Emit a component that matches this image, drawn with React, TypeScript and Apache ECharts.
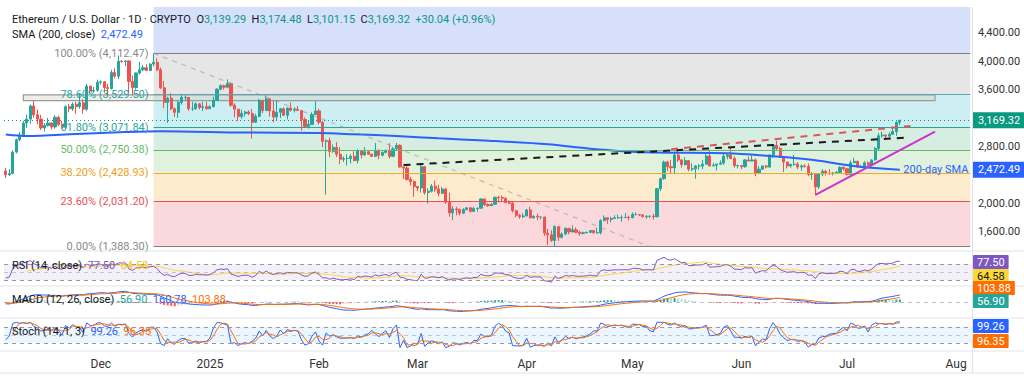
import React, { useEffect, useRef } from "react";
import * as echarts from "echarts";

// ---------------- DATA ----------------
const firstDay = "2024-11-04";
const blankDaysAfter = 20;
// closes before the first visible candle (Oct 14 .. Nov 3), used only to seed indicators
const warmupCloses = [2630, 2605, 2610, 2605, 2645, 2645, 2745, 2665, 2620, 2525, 2535, 2440, 2485, 2505, 2570, 2640, 2655, 2520, 2510, 2490, 2455];

// daily [high, low, close]; open = previous close (24/7 market)
const novHLC = [
  [2495, 2355, 2400], [2480, 2385, 2420], [2745, 2420, 2720], [2910, 2700, 2895], [3000, 2870, 2960],
  [3160, 2950, 3130], [3250, 3060, 3185], [3390, 3120, 3370], [3445, 3205, 3245], [3320, 3110, 3185],
  [3245, 3030, 3060], [3130, 3010, 3095], [3200, 3080, 3130], [3140, 3040, 3075], [3240, 3050, 3210],
  [3230, 3085, 3110], [3160, 3045, 3070], [3380, 3040, 3360], [3400, 3280, 3330], [3420, 3300, 3395],
  [3430, 3260, 3360], [3540, 3330, 3415], [3465, 3260, 3325], [3680, 3300, 3650], [3650, 3540, 3580],
  [3640, 3560, 3590], [3740, 3570, 3705],
];
const decHLC = [
  [3730, 3670, 3710], [3720, 3560, 3630], [3680, 3500, 3615], [3880, 3600, 3840], [3900, 3760, 3790],
  [4080, 3750, 4000], [4020, 3980, 3995], [4010, 3930, 4005], [4010, 3560, 3715], [3800, 3520, 3630],
  [3840, 3600, 3835], [3990, 3810, 3880], [3950, 3860, 3910], [3960, 3860, 3870], [3970, 3860, 3960],
  [4107, 3930, 3985], [4040, 3860, 3880], [3910, 3610, 3625], [3720, 3340, 3420], [3500, 3130, 3480],
  [3550, 3310, 3330], [3350, 3215, 3280], [3440, 3200, 3420], [3540, 3390, 3490], [3520, 3440, 3490],
  [3490, 3300, 3330], [3430, 3300, 3330], [3420, 3320, 3400], [3410, 3320, 3350], [3430, 3300, 3360],
  [3430, 3320, 3330],
];
const janHLC = [
  [3380, 3330, 3360], [3500, 3350, 3450], [3620, 3440, 3605], [3675, 3590, 3655], [3670, 3600, 3635],
  [3745, 3620, 3685], [3700, 3360, 3380], [3410, 3210, 3325], [3330, 3160, 3220], [3320, 3190, 3265],
  [3300, 3220, 3285], [3310, 3240, 3265], [3330, 2910, 3140], [3260, 3130, 3225], [3470, 3210, 3450],
  [3450, 3270, 3305], [3520, 3300, 3470], [3475, 3220, 3300], [3450, 3140, 3215], [3450, 3160, 3280],
  [3340, 3200, 3330], [3350, 3230, 3240], [3350, 3180, 3340], [3420, 3290, 3310], [3350, 3280, 3320],
  [3370, 3300, 3305], [3260, 3020, 3180], [3210, 3060, 3080], [3160, 3050, 3110], [3280, 3100, 3250],
  [3440, 3250, 3300],
];
const febHLC = [
  [3330, 3110, 3140], [3160, 2790, 2870], [2900, 2120, 2880], [2925, 2650, 2730], [2825, 2710, 2785],
  [2860, 2650, 2690], [2790, 2550, 2620], [2660, 2580, 2630], [2690, 2530, 2630], [2690, 2560, 2660],
  [2730, 2590, 2600], [2760, 2560, 2740], [2740, 2630, 2680], [2790, 2670, 2725], [2730, 2680, 2690],
  [2700, 2650, 2660], [2850, 2650, 2745], [2760, 2620, 2675], [2730, 2660, 2715], [2760, 2700, 2740],
  [2845, 2630, 2660], [2790, 2650, 2765], [2850, 2750, 2815], [2830, 2500, 2510], [2520, 2340, 2495],
  [2530, 2320, 2335], [2370, 2250, 2305], [2320, 2090, 2235],
];
const marHLC = [
  [2240, 2170, 2215], [2550, 2150, 2515], [2520, 2120, 2150], [2210, 1995, 2170], [2270, 2150, 2240],
  [2320, 2160, 2200], [2260, 2100, 2140], [2230, 2130, 2200], [2210, 1990, 2015], [2150, 1810, 1865],
  [1960, 1760, 1920], [1950, 1830, 1910], [1925, 1830, 1860], [1930, 1850, 1910], [1940, 1900, 1935],
  [1950, 1870, 1885], [1950, 1880, 1925], [1935, 1880, 1930], [2070, 1920, 2060], [2060, 1960, 1980],
  [2000, 1950, 1965], [2000, 1960, 1985], [2090, 1980, 2085], [2100, 2010, 2080], [2110, 2030, 2070],
  [2080, 2000, 2010], [2040, 1990, 2000], [2015, 1870, 1895], [1900, 1800, 1830], [1850, 1780, 1810],
  [1860, 1790, 1820],
];
const aprHLC = [
  [1920, 1820, 1905], [1950, 1785, 1795], [1830, 1780, 1815], [1850, 1760, 1805], [1815, 1775, 1805],
  [1810, 1540, 1580], [1640, 1410, 1555], [1620, 1455, 1475], [1690, 1388.3, 1670], [1670, 1470, 1520],
  [1590, 1505, 1565], [1660, 1550, 1645], [1650, 1560, 1595], [1690, 1600, 1625], [1660, 1580, 1590],
  [1610, 1540, 1575], [1600, 1560, 1585], [1600, 1575, 1590], [1620, 1580, 1615], [1620, 1570, 1585],
  [1655, 1570, 1585], [1775, 1560, 1755], [1830, 1745, 1795], [1790, 1710, 1770], [1810, 1730, 1785],
  [1830, 1780, 1795], [1840, 1780, 1795], [1830, 1740, 1800], [1860, 1790, 1800], [1825, 1760, 1795],
];
const mayHLC = [
  [1870, 1790, 1840], [1870, 1830, 1840], [1845, 1820, 1835], [1840, 1800, 1810], [1830, 1780, 1815],
  [1830, 1790, 1815], [1850, 1770, 1810], [2215, 1800, 2205], [2360, 2170, 2345], [2600, 2330, 2580],
  [2600, 2450, 2515], [2610, 2420, 2500], [2730, 2410, 2680], [2740, 2580, 2610], [2620, 2500, 2545],
  [2650, 2530, 2600], [2610, 2450, 2480], [2560, 2450, 2485], [2535, 2345, 2525], [2550, 2470, 2525],
  [2610, 2480, 2550], [2690, 2550, 2665], [2735, 2520, 2525], [2570, 2520, 2535], [2560, 2460, 2550],
  [2600, 2540, 2565], [2710, 2540, 2660], [2700, 2620, 2680], [2790, 2620, 2630], [2660, 2500, 2530],
  [2545, 2490, 2530],
];
const junHLC = [
  [2540, 2480, 2515], [2620, 2500, 2610], [2660, 2590, 2595], [2680, 2590, 2610], [2630, 2380, 2420],
  [2520, 2410, 2480], [2530, 2470, 2525], [2540, 2490, 2510], [2690, 2500, 2680], [2830, 2640, 2815],
  [2880, 2750, 2770], [2790, 2640, 2645], [2630, 2440, 2580], [2580, 2490, 2525], [2560, 2500, 2545],
  [2680, 2530, 2550], [2580, 2480, 2510], [2545, 2460, 2525], [2550, 2500, 2520], [2560, 2380, 2405],
  [2440, 2330, 2410], [2410, 2110, 2230], [2420, 2200, 2410], [2480, 2380, 2450], [2470, 2390, 2420],
  [2480, 2400, 2415], [2440, 2390, 2425], [2450, 2420, 2435], [2520, 2420, 2505], [2520, 2460, 2485],
];
const julHLC = [
  [2500, 2390, 2405], [2600, 2400, 2570], [2640, 2570, 2590], [2600, 2500, 2510], [2540, 2500, 2515],
  [2590, 2500, 2570], [2590, 2520, 2540], [2620, 2520, 2610], [2790, 2600, 2770], [2990, 2750, 2950],
  [3010, 2920, 2960], [2970, 2900, 2945], [3000, 2920, 2970], [3080, 2970, 3010], [3150, 2950, 3139.29],
  [3174.48, 3101.15, 3169.32],
];

// 200-day SMA read at sample dates
const smaDates = ["2024-11-04", "2024-11-10", "2024-11-24", "2024-12-08", "2024-12-18", "2025-01-10", "2025-02-01", "2025-02-11", "2025-02-23", "2025-03-07", "2025-03-20", "2025-04-07", "2025-04-19", "2025-05-05", "2025-05-28", "2025-06-09", "2025-06-19", "2025-06-23", "2025-07-01", "2025-07-06", "2025-07-16"];
const smaValues = [2968, 2947, 2975, 3003, 3015, 2996, 2989, 2971, 2947, 2914, 2883, 2830, 2768, 2717, 2703, 2665, 2623, 2599, 2538, 2506, 2472.49];

// Fibonacci retracement
const fibStart = "2024-12-16";
const fibRatios = ["100.00%", "78.60%", "61.80%", "50.00%", "38.20%", "23.60%", "0.00%"];
const fibPrices = [4112.47, 3529.5, 3071.84, 2750.38, 2428.93, 2031.2, 1388.3];

// drawings
const boxZone = { from: "2024-11-09", to: "2025-07-26", top: 3525, bottom: 3444 };
const blackTrend = [["2025-02-25", 2538], ["2025-07-18", 2923]];
const redTrend = [["2025-05-12", 2760], ["2025-07-19", 3088]];
const magentaTrend = [["2025-06-22", 2116], ["2025-07-26", 3008]];
const greyDiagonal = [["2024-12-16", 4112.47], ["2025-05-06", 1388.3]];

// 3,200 and 2,400 sit under the price tags in the reference
const priceTicks = [1600, 2000, 2800, 3600, 4000, 4400];
const lastPrice = 3169.32;
const lastSma = 2472.49;
const legendOHLC = { o: "3,139.29", h: "3,174.48", l: "3,101.15", c: "3,169.32", chg: "+30.04 (+0.96%)" };
const rsiLegend = ["77.50", "64.58"];
const macdLegend = ["56.90", "160.78", "103.88"];
const stochLegend = ["99.26", "96.35"];

// ---------------- BUILD ----------------
const FONT = "Roboto, 'Noto Sans', sans-serif";
const monthNames = ["Jan", "Feb", "Mar", "Apr", "May", "Jun", "Jul", "Aug", "Sep", "Oct", "Nov", "Dec"];

function buildDays(start: string, count: number): string[] {
  const t0 = Date.UTC(+start.slice(0, 4), +start.slice(5, 7) - 1, +start.slice(8, 10));
  const out: string[] = [];
  for (let i = 0; i < count; i++) out.push(new Date(t0 + i * 86400000).toISOString().slice(0, 10));
  return out;
}

const hlc = [...novHLC, ...decHLC, ...janHLC, ...febHLC, ...marHLC, ...aprHLC, ...mayHLC, ...junHLC, ...julHLC];
const days = buildDays(firstDay, hlc.length + blankDaysAfter);
const lastDay = days[days.length - 1];

let prevC = warmupCloses[warmupCloses.length - 1];
const candles = hlc.map(([h, l, c]) => {
  const o = prevC;
  prevC = c;
  return [o, c, Math.min(l, o, c), Math.max(h, o, c)];
});
const closes = hlc.map((r) => r[2]);
const highs = candles.map((k) => k[3]);
const lows = candles.map((k) => k[2]);

function calcRSI(src: number[], n: number) {
  const out: (number | null)[] = src.map(() => null);
  let ag = 0, al = 0;
  for (let i = 1; i < src.length; i++) {
    const ch = src[i] - src[i - 1];
    const g = Math.max(ch, 0), lo = Math.max(-ch, 0);
    if (i <= n) {
      ag += g / n; al += lo / n;
      if (i === n) out[i] = al === 0 ? 100 : 100 - 100 / (1 + ag / al);
    } else {
      ag = (ag * (n - 1) + g) / n; al = (al * (n - 1) + lo) / n;
      out[i] = al === 0 ? 100 : 100 - 100 / (1 + ag / al);
    }
  }
  return out;
}
function smaOf(src: (number | null)[], n: number) {
  return src.map((_, i) => {
    if (i < n - 1) return null;
    let s = 0;
    for (let j = i - n + 1; j <= i; j++) { const v = src[j]; if (v == null) return null; s += v; }
    return s / n;
  });
}
function emaOf(src: number[], n: number) {
  const k = 2 / (n + 1);
  let e = src[0];
  return src.map((v, i) => (i === 0 ? e : (e = v * k + e * (1 - k))));
}

const W = warmupCloses.length;
const allCloses = [...warmupCloses, ...closes];
const rsiAll = calcRSI(allCloses, 14);
const rsiMaAll = smaOf(rsiAll, 14);
const rsi = rsiAll.slice(W);
const rsiMa = rsiMaAll.slice(W);
const ema12 = emaOf(allCloses, 12);
const ema26 = emaOf(allCloses, 26);
const macdAll = ema12.map((v, i) => v - ema26[i]);
const signalAll = emaOf(macdAll, 9);
const macd = macdAll.slice(W);
const signal = signalAll.slice(W);
const histAll = macdAll.map((v, i) => v - signalAll[i]);
const hist = histAll.slice(W).map((v, i) => {
  const p = histAll[W + i - 1];
  const color = v >= 0 ? (v >= p ? "#26a69a" : "#b2dfdb") : (v < p ? "#ff5252" : "#ffcdd2");
  return { value: v, itemStyle: { color } };
});
const stochK = closes.map((c, i) => {
  const s = Math.max(0, i - 13);
  const hh = Math.max(...highs.slice(s, i + 1));
  const ll = Math.min(...lows.slice(s, i + 1));
  return hh === ll ? 50 : (100 * (c - ll)) / (hh - ll);
});
const stochD = smaOf(stochK, 3);

const smaSeriesData = days.map((d) => {
  const k = smaDates.indexOf(d);
  return k >= 0 ? smaValues[k] : null;
});

const fmtPrice = (v: number) => v.toLocaleString("en-US", { minimumFractionDigits: 2, maximumFractionDigits: 2 });

const fibLineColors = ["#808080", "#5fa5ad", "#26a69a", "#66bb6a", "#f5a623", "#e8505b", "#808080"];
const fibLabelColors = ["#8a8a8a", "#26a6b0", "#26a69a", "#66bb6a", "#f0a020", "#e8505b", "#8a8a8a"];
const fibBandColors = ["#d6e0fb", "#e6e6e6", "#cdeff3", "#d6ede2", "#e0f1de", "#fdebcd", "#fbd8db"];

const Y_MIN = 1341;
const Y_MAX = 4764;

function tag(text: string, y: number, bg: string, fg = "#fff") {
  return {
    type: "text", x: 973, y, z: 100,
    style: { text, fill: fg, backgroundColor: bg, padding: [2, 4, 1, 4], fontSize: 11, fontFamily: FONT, verticalAlign: "middle", borderRadius: 1 },
  };
}

function buildOption(): any {
  const grids = [
    { left: 4, right: 52, top: 7, height: 243 },
    { left: 4, right: 52, top: 252, height: 33 },
    { left: 4, right: 52, top: 287, height: 30 },
    { left: 4, right: 52, top: 319, height: 31 },
  ];
  const xAxes = grids.map((_, i) => ({
    type: "category", gridIndex: i, data: days, boundaryGap: true,
    axisLine: { show: false }, axisTick: { show: false }, splitLine: { show: false },
    axisLabel: i === 3 ? {
      show: true, margin: 8, color: "#333", fontSize: 12, fontFamily: FONT,
      interval: (_idx: number, v: string) => v.endsWith("-01"),
      formatter: (v: string) => { const m = +v.slice(5, 7); return m === 1 ? v.slice(0, 4) : monthNames[m - 1]; },
    } : { show: false },
  }));
  const hiddenY = { axisLabel: { show: false }, axisLine: { show: false }, axisTick: { show: false }, splitLine: { show: false } };
  const yAxes = [
    {
      type: "value", gridIndex: 0, position: "right", min: Y_MIN, max: Y_MAX,
      axisLine: { show: false }, axisTick: { show: false }, splitLine: { show: false },
      axisLabel: { customValues: priceTicks, formatter: (v: number) => fmtPrice(v), color: "#333", fontSize: 11, fontFamily: FONT, margin: 6 },
    },
    { type: "value", gridIndex: 1, min: 17.5, max: 100, ...hiddenY },
    { type: "value", gridIndex: 2, min: -341, max: 341, ...hiddenY },
    { type: "value", gridIndex: 3, min: -6, max: 110, ...hiddenY },
  ];

  const levelTops = [Y_MAX, ...fibPrices.slice(0, -1)];
  const fibBands = fibBandColors.map((color, i) => [
    { xAxis: fibStart, yAxis: levelTops[i], itemStyle: { color } },
    { xAxis: lastDay, yAxis: fibPrices[i] },
  ]);
  const fibLines = fibPrices.map((p, i) => [
    {
      coord: [fibStart, p],
      lineStyle: { color: fibLineColors[i], width: 1.2, type: "solid" },
      label: { show: true, position: "start", distance: 5, formatter: `${fibRatios[i]} (${fmtPrice(p)})`, color: fibLabelColors[i], fontSize: 11, fontFamily: FONT },
    },
    { coord: [lastDay, p] },
  ]);

  const trend = (pts: any[], color: string, type: any, width: number) => [
    { coord: pts[0], lineStyle: { color, type, width } },
    { coord: pts[1] },
  ];

  const dash = (v: number, color = "#9598a1") => ({ yAxis: v, lineStyle: { color, type: [4, 4], width: 1 }, label: { show: false } });

  const series: any[] = [
    {
      name: "fib", type: "line", xAxisIndex: 0, yAxisIndex: 0, data: [], z: 1, silent: true,
      markArea: { silent: true, data: fibBands },
      markLine: { silent: true, symbol: ["none", "none"], data: fibLines },
    },
    {
      name: "diag", type: "line", xAxisIndex: 0, yAxisIndex: 0, data: [], z: 1, silent: true,
      markLine: { silent: true, symbol: ["none", "none"], label: { show: false }, data: [trend(greyDiagonal, "rgba(150,150,150,0.55)", [5, 5], 1.2)] },
    },
    {
      name: "candles", type: "candlestick", xAxisIndex: 0, yAxisIndex: 0, z: 2, data: candles, barWidth: 2.6,
      itemStyle: { color: "#26a69a", color0: "#ef5350", borderColor: "#26a69a", borderColor0: "#ef5350", borderWidth: 1 },
      markLine: {
        silent: true, symbol: ["none", "none"],
        data: [{
          yAxis: lastPrice, lineStyle: { color: "#089981", type: [1, 3], width: 1 },
          label: { show: true, position: "end", distance: 1, formatter: fmtPrice(lastPrice), color: "#fff", backgroundColor: "#089981", padding: [3, 5, 2, 5], fontSize: 11, fontFamily: FONT },
        }],
      },
    },
    {
      name: "SMA 200", type: "line", xAxisIndex: 0, yAxisIndex: 0, z: 3, data: smaSeriesData, connectNulls: true, smooth: 0.3,
      symbol: "none", lineStyle: { color: "#2962ff", width: 2 },
      markLine: {
        silent: true, symbol: ["none", "none"],
        data: [{
          yAxis: lastSma, lineStyle: { color: "rgba(0,0,0,0)", width: 0 },
          label: { show: true, position: "end", distance: 1, formatter: fmtPrice(lastSma), color: "#fff", backgroundColor: "#2962ff", padding: [3, 5, 2, 5], fontSize: 11, fontFamily: FONT },
        }],
      },
      markPoint: {
        silent: true, symbol: "circle", symbolSize: 1, itemStyle: { color: "rgba(0,0,0,0)" },
        data: [{ coord: ["2025-07-16", lastSma], label: { show: true, position: "right", distance: 3, formatter: "200-day SMA", color: "#2962ff", fontSize: 11, fontFamily: FONT } }],
      },
    },
    {
      name: "drawings", type: "line", xAxisIndex: 0, yAxisIndex: 0, data: [], z: 4, silent: true,
      markArea: {
        silent: true,
        data: [[
          { xAxis: boxZone.from, yAxis: boxZone.top, itemStyle: { color: "rgba(215,205,185,0.35)", borderColor: "#9a9a9a", borderWidth: 1.2 } },
          { xAxis: boxZone.to, yAxis: boxZone.bottom },
        ]],
      },
      markLine: {
        silent: true, symbol: ["none", "none"], label: { show: false },
        data: [
          trend(blackTrend, "#1a1a1a", [7, 6], 2),
          trend(redTrend, "#e05555", [7, 6], 2),
          trend(magentaTrend, "#cc33cc", "solid", 2),
        ],
      },
    },
    // RSI
    {
      name: "RSI", type: "line", xAxisIndex: 1, yAxisIndex: 1, data: rsi, symbol: "none", z: 3,
      lineStyle: { color: "#7e57c2", width: 1 },
      markArea: { silent: true, data: [[{ yAxis: 70, itemStyle: { color: "rgba(126,87,194,0.09)" } }, { yAxis: 30 }]] },
      markLine: { silent: true, symbol: ["none", "none"], data: [dash(70), dash(50, "rgba(149,152,161,0.5)"), dash(30)] },
    },
    { name: "RSI MA", type: "line", xAxisIndex: 1, yAxisIndex: 1, data: rsiMa, symbol: "none", z: 2, lineStyle: { color: "#fdd835", width: 1 } },
    // MACD
    {
      name: "Hist", type: "bar", xAxisIndex: 2, yAxisIndex: 2, data: hist, barWidth: 2, z: 2,
      markLine: { silent: true, symbol: ["none", "none"], data: [dash(0, "rgba(149,152,161,0.6)")] },
    },
    { name: "MACD", type: "line", xAxisIndex: 2, yAxisIndex: 2, data: macd, symbol: "none", z: 3, lineStyle: { color: "#2962ff", width: 1 } },
    { name: "Signal", type: "line", xAxisIndex: 2, yAxisIndex: 2, data: signal, symbol: "none", z: 3, lineStyle: { color: "#ff6d00", width: 1 } },
    // Stoch
    {
      name: "%K", type: "line", xAxisIndex: 3, yAxisIndex: 3, data: stochK, symbol: "none", z: 3,
      lineStyle: { color: "#2962ff", width: 1 },
      markArea: { silent: true, data: [[{ yAxis: 80, itemStyle: { color: "rgba(33,150,243,0.09)" } }, { yAxis: 20 }]] },
      markLine: { silent: true, symbol: ["none", "none"], data: [dash(80), dash(50, "rgba(149,152,161,0.5)"), dash(20)] },
    },
    { name: "%D", type: "line", xAxisIndex: 3, yAxisIndex: 3, data: stochD, symbol: "none", z: 3, lineStyle: { color: "#ff6d00", width: 1 } },
  ];

  const sep = (y: number) => ({ type: "line", silent: true, z: 50, shape: { x1: 0, y1: y, x2: 1024, y2: y }, style: { stroke: "#e0e3eb", lineWidth: 1 } });

  const graphic: any[] = [
    sep(251), sep(286), sep(318), sep(351), sep(373),
    { type: "line", silent: true, z: 50, shape: { x1: 972.5, y1: 7, x2: 972.5, y2: 373 }, style: { stroke: "#e0e3eb", lineWidth: 1 } },
    {
      type: "text", x: 12, y: 19, z: 60,
      style: {
        text: `{t|Ethereum / U.S. Dollar · 1D · CRYPTO}  {k|O}{v|${legendOHLC.o}}  {k|H}{v|${legendOHLC.h}}  {k|L}{v|${legendOHLC.l}}  {k|C}{v|${legendOHLC.c}}  {v|${legendOHLC.chg}}`,
        verticalAlign: "middle", fontSize: 11, fontFamily: FONT,
        rich: { t: { fill: "#131722", fontSize: 11, fontFamily: FONT }, k: { fill: "#131722", fontSize: 11, fontFamily: FONT }, v: { fill: "#089981", fontSize: 11, fontFamily: FONT } },
      },
    },
    {
      type: "text", x: 12, y: 34, z: 60,
      style: {
        text: `{t|SMA (200, close)}  {b|${fmtPrice(lastSma)}}`, verticalAlign: "middle", fontSize: 11, fontFamily: FONT,
        rich: { t: { fill: "#131722", fontSize: 11, fontFamily: FONT }, b: { fill: "#2962ff", fontSize: 11, fontFamily: FONT } },
      },
    },
    {
      type: "text", x: 12, y: 265, z: 60,
      style: {
        text: `{t|RSI (14, close)}  {a|${rsiLegend[0]}}  {b|${rsiLegend[1]}}`, verticalAlign: "middle", fontSize: 11, fontFamily: FONT,
        rich: { t: { fill: "#131722", fontSize: 11, fontFamily: FONT }, a: { fill: "#7e57c2", fontSize: 11, fontFamily: FONT }, b: { fill: "#f5c518", fontSize: 11, fontFamily: FONT } },
      },
    },
    {
      type: "text", x: 12, y: 299, z: 60,
      style: {
        text: `{t|MACD (12, 26, close)}  {a|${macdLegend[0]}}  {b|${macdLegend[1]}}  {c|${macdLegend[2]}}`, verticalAlign: "middle", fontSize: 11, fontFamily: FONT,
        rich: { t: { fill: "#131722", fontSize: 11, fontFamily: FONT }, a: { fill: "#26a69a", fontSize: 11, fontFamily: FONT }, b: { fill: "#2962ff", fontSize: 11, fontFamily: FONT }, c: { fill: "#ff6d00", fontSize: 11, fontFamily: FONT } },
      },
    },
    {
      type: "text", x: 12, y: 331, z: 60,
      style: {
        text: `{t|Stoch (14, 1, 3)}  {a|${stochLegend[0]}}  {b|${stochLegend[1]}}`, verticalAlign: "middle", fontSize: 11, fontFamily: FONT,
        rich: { t: { fill: "#131722", fontSize: 11, fontFamily: FONT }, a: { fill: "#2962ff", fontSize: 11, fontFamily: FONT }, b: { fill: "#ff6d00", fontSize: 11, fontFamily: FONT } },
      },
    },
    tag(rsiLegend[0], 262, "#7e57c2"),
    tag(rsiLegend[1], 276, "#fdd835", "#131722"),
    tag(macdLegend[2], 288, "#ff6d00"),
    tag(macdLegend[0], 301, "#26a69a"),
    tag(stochLegend[0], 326, "#2962ff"),
    tag(stochLegend[1], 341, "#ff6d00"),
  ];

  return {
    animation: false,
    backgroundColor: "#ffffff",
    textStyle: { fontFamily: FONT },
    grid: grids,
    xAxis: xAxes,
    yAxis: yAxes,
    series,
    graphic,
  };
}

export default function App() {
  const ref = useRef<HTMLDivElement>(null);
  useEffect(() => {
    if (!ref.current) return;
    const chart = echarts.init(ref.current, null, { renderer: "svg" });
    chart.setOption(buildOption());
    return () => chart.dispose();
  }, []);
  return <div ref={ref} style={{ position: "fixed", left: 0, top: 0, width: 1024, height: 377, background: "#fff" }} />;
}
